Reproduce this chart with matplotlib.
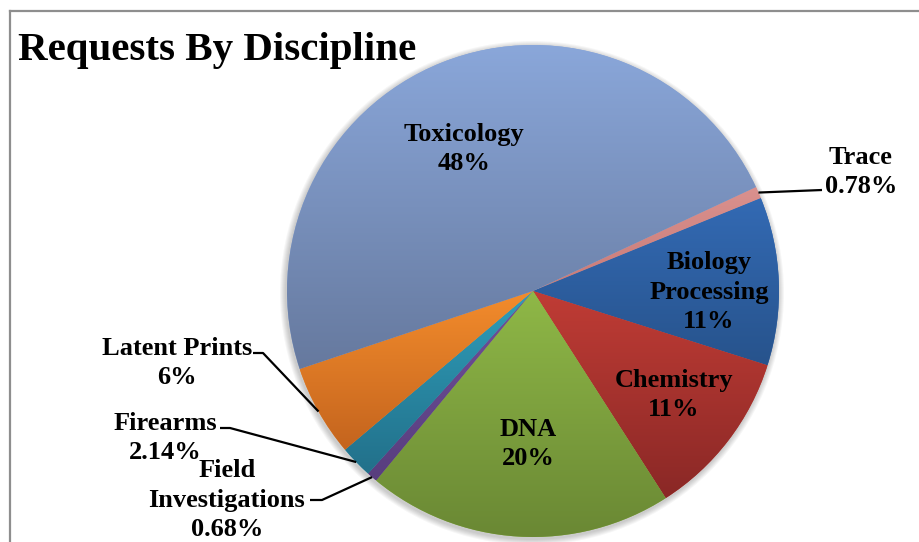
import numpy as np
import matplotlib.pyplot as plt
from matplotlib.colors import LinearSegmentedColormap
from matplotlib.lines import Line2D

# slice data, clockwise from the Trace sliver
disciplines = ["Trace", "Biology\nProcessing", "Chemistry", "DNA",
               "Field\nInvestigations", "Firearms", "Latent Prints", "Toxicology"]
shares = [0.78, 11, 11, 20, 0.68, 2.14, 6, 48]
pct_labels = ["0.78%", "11%", "11%", "20%", "0.68%", "2.14%", "6%", "48%"]

# gradient colours per slice (top -> bottom)
top_colors = ["#DA918E", "#336AB4", "#C03C35", "#8FB847", "#71509A", "#2F9EBA", "#F38C2C", "#8AA7DA"]
bottom_colors = ["#C97B78", "#27538C", "#8A2826", "#6A8834", "#583E7E", "#22708A", "#C4641E", "#66799E"]

W, H = 920, 542
FONT = "Liberation Serif"

fig = plt.figure(figsize=(9.2, 5.42), dpi=100)
ax = fig.add_axes([0, 0, 1, 1])

cx, cy, r = 533, H - 291, 246

# soft shadow under the pie
for k in range(6):
    ax.add_patch(plt.Circle((cx - 1, cy - 2), r + 1 + k, color="#000000",
                            alpha=0.035, lw=0, zorder=0))

wedges, _ = ax.pie(shares, colors=top_colors, startangle=25, counterclock=False,
                   center=(cx, cy), radius=r, wedgeprops=dict(linewidth=0))

# vertical gradient inside every wedge
grad = np.linspace(0, 1, 256).reshape(-1, 1)
for w, c0, c1 in zip(wedges, top_colors, bottom_colors):
    bb = w.get_path().get_extents()
    cmap = LinearSegmentedColormap.from_list("g", [c1, c0])
    im = ax.imshow(grad, cmap=cmap, extent=(bb.x0, bb.x1, bb.y0, bb.y1),
                   origin="lower", aspect="auto", interpolation="bilinear", zorder=2)
    im.set_clip_path(w)
    w.set_zorder(1)

ax.set_xlim(0, W)
ax.set_ylim(0, H)
ax.axis("off")

# label block centres in pixel coords (from top-left)
label_pos = [(861, 172), (709, 292), (674, 395), (528, 444),
             (227, 500), (165, 438), (177, 363), (464, 149)]
# outside labels: (text side point, elbow point) in pixel coords
leaders = {0: [(822, 190)],
           4: [(310, 500), (322, 500)],
           5: [(220, 428), (230, 428)],
           6: [(253, 353), (263, 353)]}

for i, (name, pct) in enumerate(zip(disciplines, pct_labels)):
    x, y = label_pos[i]
    ax.text(x, H - y, name + "\n" + pct, ha="center", va="center",
            fontsize=19, fontweight="bold", family=FONT, linespacing=1.36,
            zorder=5)
    if i in leaders:
        w = wedges[i]
        mid = np.deg2rad((w.theta1 + w.theta2) / 2)
        ex, ey = cx + r * np.cos(mid), cy + r * np.sin(mid)
        pts = [(px, H - py) for px, py in leaders[i]] + [(ex, ey)]
        xs, ys = zip(*pts)
        ax.plot(xs, ys, color="black", lw=1.6, zorder=4, solid_capstyle="butt")

fig.text(18 / W, 1 - 60 / H, "Requests By Discipline", ha="left", va="baseline",
         fontsize=29.5, fontweight="bold", family=FONT)

# chart border (top and left edges visible)
fig.add_artist(Line2D([10 / W, 1], [1 - 11 / H, 1 - 11 / H], color="#8E8E8E", lw=1.6))
fig.add_artist(Line2D([10 / W, 10 / W], [0, 1 - 11 / H], color="#8E8E8E", lw=1.6))

fig.savefig("out.png", dpi=100)
